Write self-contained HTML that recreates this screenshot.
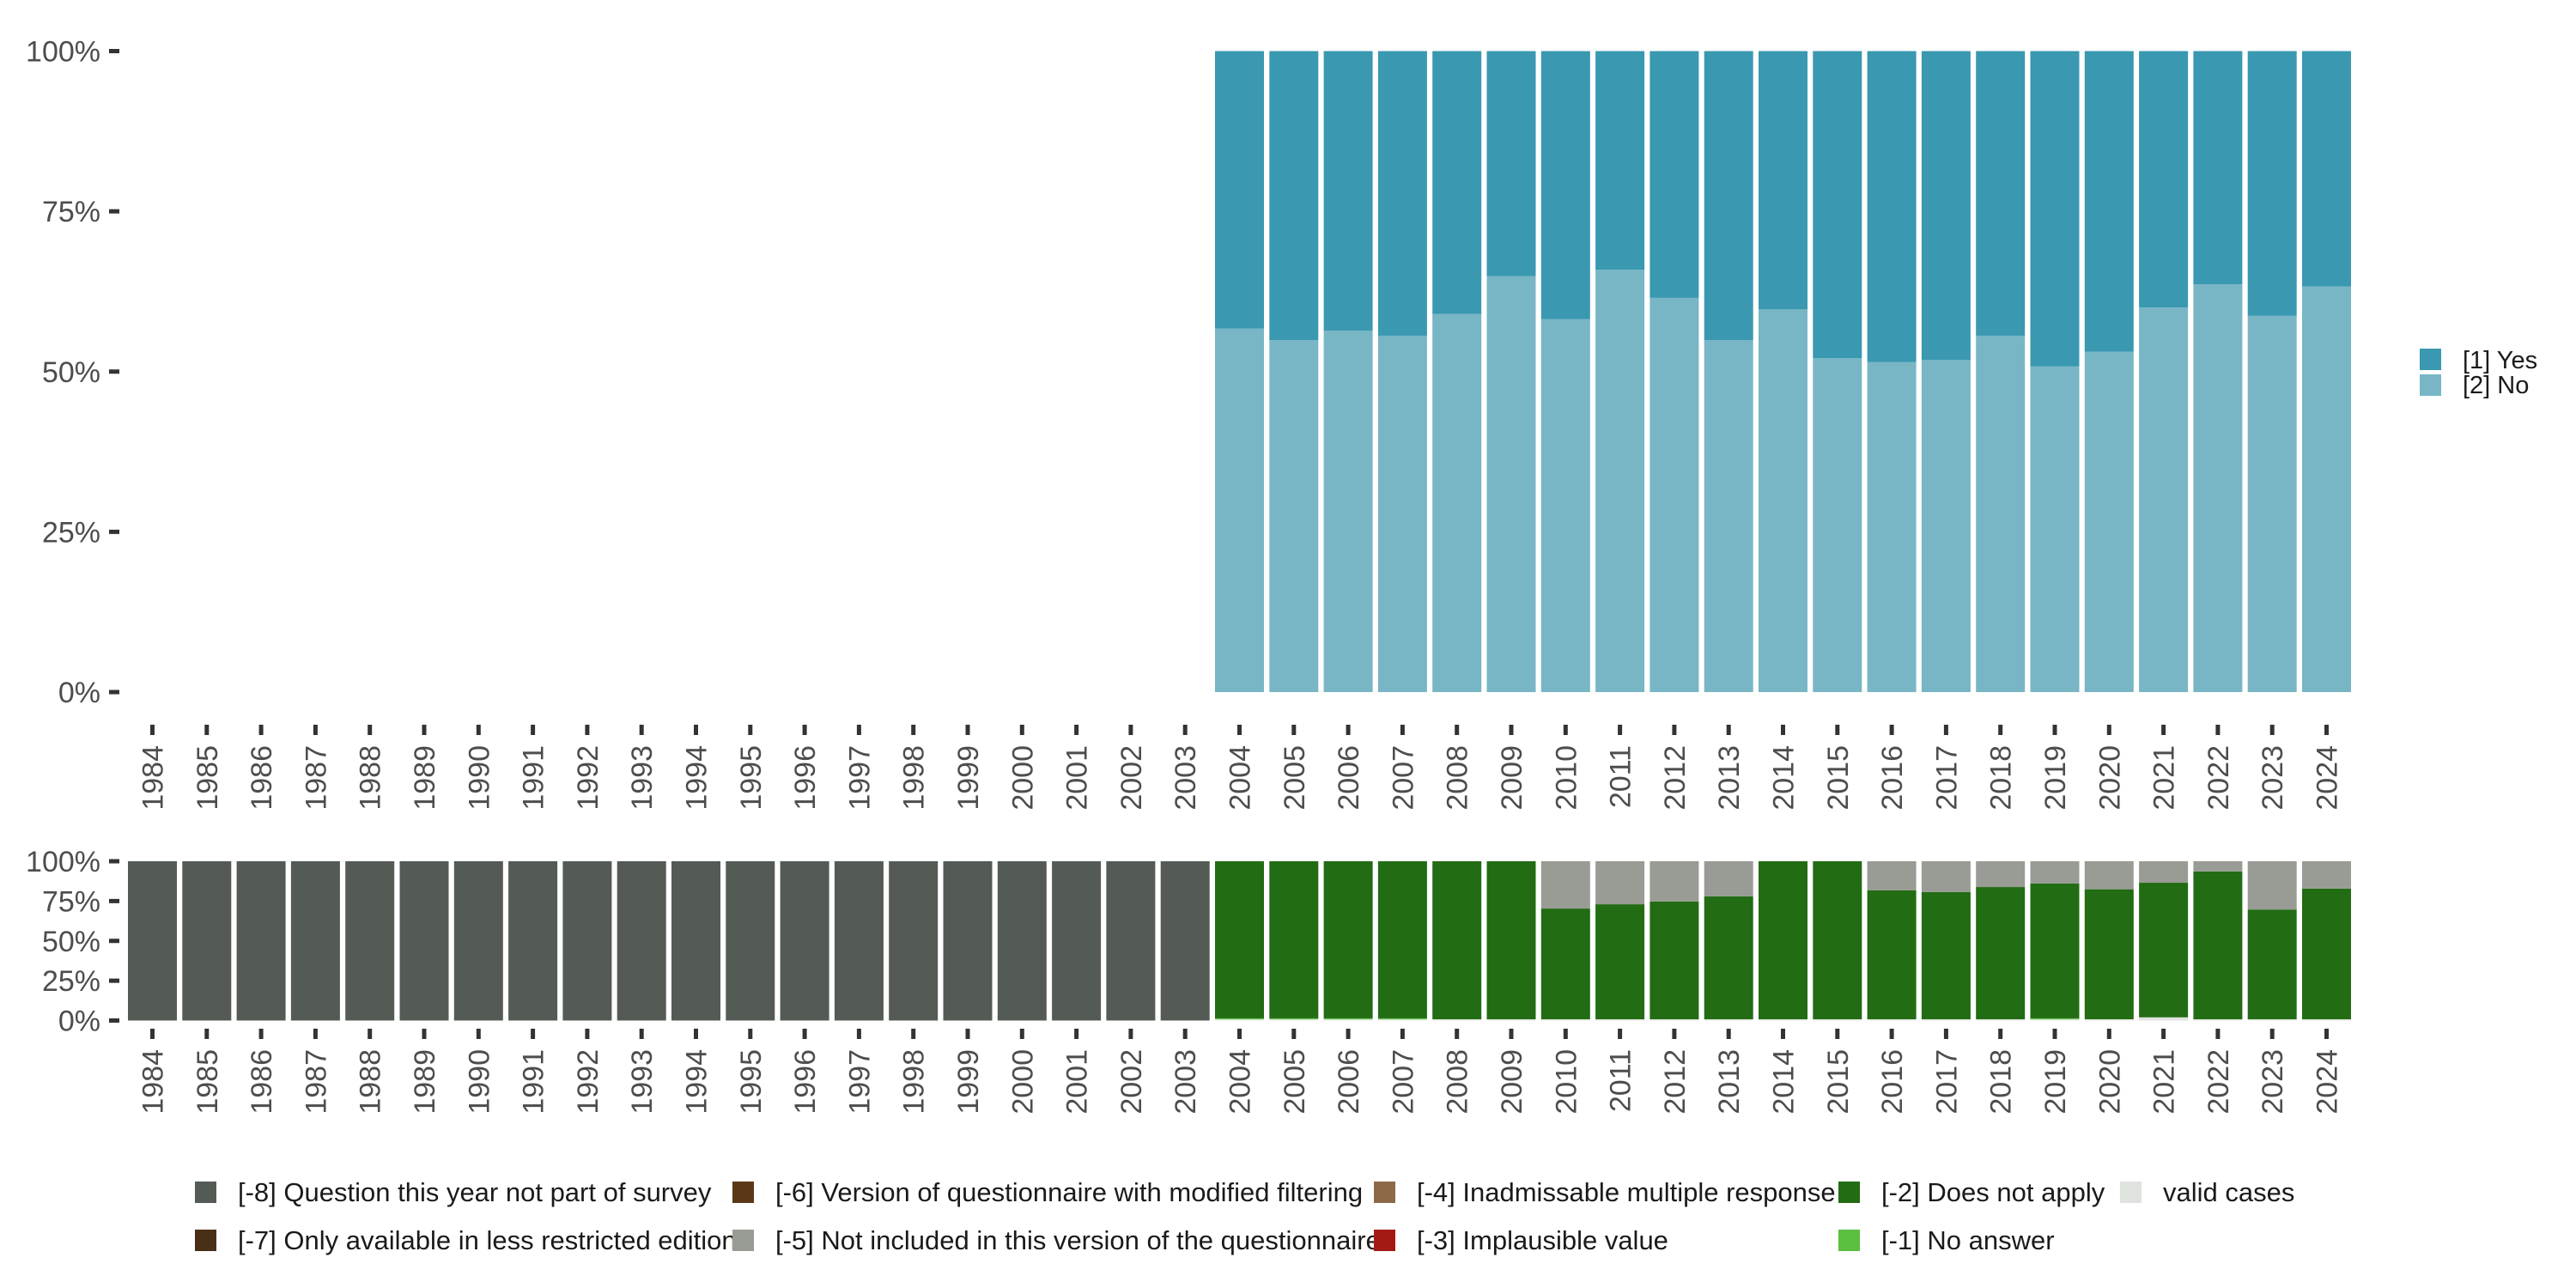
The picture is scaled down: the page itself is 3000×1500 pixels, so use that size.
<!DOCTYPE html>
<html><head><meta charset="utf-8"><style>
html,body{margin:0;padding:0;background:#fff;}
svg{display:block;font-family:"Liberation Sans",sans-serif;}
</style></head><body>
<svg id="chart" width="3000" height="1500" viewBox="0 0 3000 1500" xmlns="http://www.w3.org/2000/svg">
<g id="topPanel"></g>
<g id="botPanel"></g>
<g id="legRight"></g>
<g id="legBottom"></g>
</svg>
<script>
const years = [1984,1985,1986,1987,1988,1989,1990,1991,1992,1993,1994,1995,1996,1997,1998,1999,2000,2001,2002,2003,2004,2005,2006,2007,2008,2009,2010,2011,2012,2013,2014,2015,2016,2017,2018,2019,2020,2021,2022,2023,2024];
const surveyedYears = [2004,2005,2006,2007,2008,2009,2010,2011,2012,2013,2014,2015,2016,2017,2018,2019,2020,2021,2022,2023,2024];
const noShare = [0.567,0.549,0.564,0.556,0.590,0.649,0.582,0.659,0.615,0.549,0.597,0.521,0.515,0.518,0.556,0.508,0.531,0.600,0.636,0.587,0.633];
const validShare = [0.008,0.008,0.008,0.008,0.008,0.008,0.008,0.008,0.008,0.008,0.008,0.008,0.008,0.008,0.008,0.008,0.008,0.02,0.008,0.008,0.008];
const noAnswerShare = [0.006,0.006,0.006,0.006,0,0,0,0,0,0,0,0,0,0,0,0.006,0,0,0,0,0];
const notIncludedShare = [0,0,0,0,0,0,0.297,0.270,0.253,0.220,0,0,0.183,0.193,0.162,0.139,0.176,0.135,0.064,0.303,0.172];
const yTicks = [0,0.25,0.5,0.75,1];
const yTickLabels = ["0%","25%","50%","75%","100%"];

const NS="http://www.w3.org/2000/svg";
function mk(tag,attrs,parent,text){const e=document.createElementNS(NS,tag);for(const k in attrs)e.setAttribute(k,attrs[k]);if(text!==undefined)e.textContent=text;parent.appendChild(e);return e;}
const xC = y => 177.5 + (years.indexOf(y))*63.3;
const BW = 57;
const yT = v => 806 - v*746.5;
const yB = v => 1188.5 - v*185.5;
const topG=document.getElementById('topPanel'), botG=document.getElementById('botPanel');

function axes(g, yf, tickY0, name){
  yTicks.forEach((t,i)=>{
    const l=mk('rect',{x:127,y:yf(t)-2.5,width:12,height:5,fill:'#333'},g);
    
    
    const tx=mk('text',{x:117,y:yf(t)+12,'text-anchor':'end','font-size':34,fill:'#4d4d4d'},g,yTickLabels[i]);
    
    
  });
  years.forEach(y=>{
    const c=xC(y);
    const tk=mk('rect',{x:c-2.5,y:tickY0,width:5,height:12,fill:'#333'},g);
    
    
    const tx=mk('text',{x:0,y:0,'text-anchor':'end','font-size':34,fill:'#4d4d4d',transform:`translate(${c+12},${tickY0+24}) rotate(-90)`},g,String(y));
    
    
  });
}
axes(topG,yT,844,'top');
axes(botG,yB,1198,'bottom');

surveyedYears.forEach((y,i)=>{
  const c=xC(y), n=noShare[i];
  const r1=mk('rect',{x:c-BW/2,y:yT(n),width:BW,height:yT(0)-yT(n),fill:'#78b6c5'},topG);
  
  
  const r2=mk('rect',{x:c-BW/2,y:yT(1),width:BW,height:yT(n)-yT(1),fill:'#3a98b1'},topG);
  
  
});

years.forEach(y=>{
  const c=xC(y), j=surveyedYears.indexOf(y);
  if(j<0){
    const r=mk('rect',{x:c-BW/2,y:yB(1),width:BW,height:yB(0)-yB(1),fill:'#545b55'},botG);
    
    
    return;
  }
  const parts=[[validShare[j],'#dfe3de','valid'],[noAnswerShare[j],'#5bbf3f','no-answer'],[1-validShare[j]-noAnswerShare[j]-notIncludedShare[j],'#226c13','does-not-apply'],[notIncludedShare[j],'#999c95','not-included']];
  let acc=0;
  parts.forEach(p=>{
    if(p[0]<=0)return;
    const r=mk('rect',{x:c-BW/2,y:yB(acc+p[0]),width:BW,height:yB(acc)-yB(acc+p[0]),fill:p[1]},botG);
    
    
    acc+=p[0];
  });
});

const legRG=document.getElementById('legRight');
[['[1] Yes','#3a98b1',406,429],['[2] No','#78b6c5',436,458]].forEach(e=>{
  const s=mk('rect',{x:2818,y:e[2],width:25,height:25,fill:e[1]},legRG);
  
  
  const t=mk('text',{x:2868,y:e[3],'font-size':29,fill:'#1a1a1a'},legRG,e[0]);
  
  
});

const legBG=document.getElementById('legBottom');
const legItems=[
 ['[-8] Question this year not part of survey','#545b55',227,0],
 ['[-7] Only available in less restricted edition','#4a2f17',227,1],
 ['[-6] Version of questionnaire with modified filtering','#5a3817',853,0],
 ['[-5] Not included in this version of the questionnaire','#999c95',853,1],
 ['[-4] Inadmissable multiple response','#8c6a48',1600,0],
 ['[-3] Implausible value','#a31a14',1600,1],
 ['[-2] Does not apply','#226c13',2141,0],
 ['[-1] No answer','#5bbf3f',2141,1],
 ['valid cases','#dfe3de',2469,0]];
legItems.forEach(e=>{
  const y0=e[3]?1432:1376;
  const s=mk('rect',{x:e[2],y:y0,width:25,height:25,fill:e[1]},legBG);
  
  
  const t=mk('text',{x:e[2]+50,y:y0+23,'font-size':31,fill:'#1a1a1a'},legBG,e[0]);
  
  
});
</script>
</body></html>
